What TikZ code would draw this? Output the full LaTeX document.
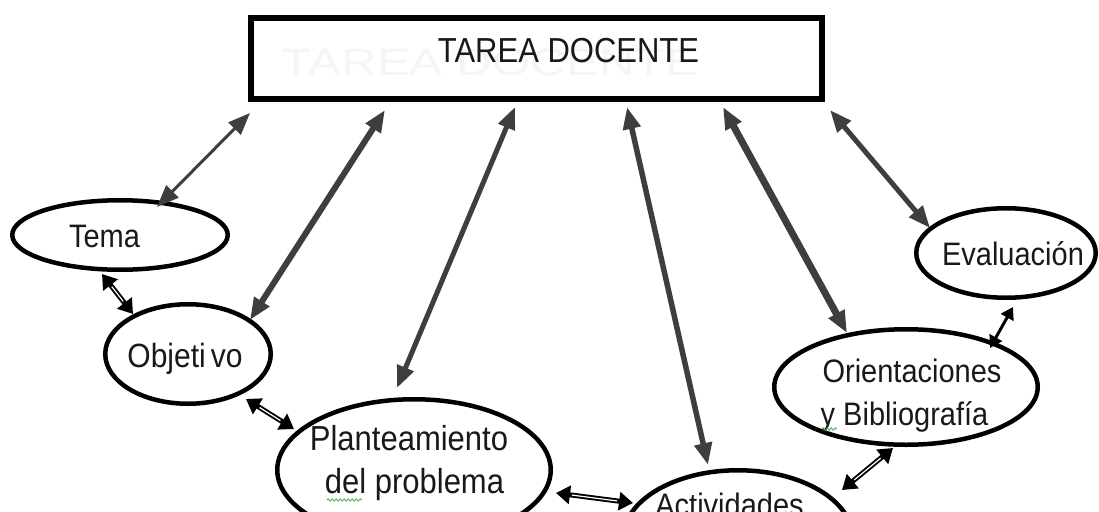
\documentclass[tikz,border=0pt]{standalone}
\usepackage{fontspec}
\setmainfont{Liberation Sans}
\usetikzlibrary{shapes.geometric,arrows.meta,decorations.pathmorphing}
\definecolor{arrowgray}{RGB}{62,62,62}
\definecolor{ghostgray}{RGB}{245,245,245}
\definecolor{squiggle}{RGB}{80,170,80}
\definecolor{txt}{RGB}{25,25,25}
\newcommand{\tallt}[1]{\scalebox{1}[1.12]{#1}}
\begin{document}
\begin{tikzpicture}[x=1pt,y=-1pt,
  oval/.style={ellipse, draw=black, line width=4.5pt, fill=white, inner sep=0pt},
  label text/.style={anchor=base, inner sep=0pt, text=txt},
  link/.style={draw=arrowgray, {Triangle[length=22pt,width=17pt]}-{Triangle[length=22pt,width=17pt]}},
  pairlink/.style={draw=black, line width=5pt, {Triangle[length=14pt,width=18pt]}-{Triangle[length=14pt,width=18pt]},
    postaction={draw=white, line width=1.2pt, -, shorten <=16pt, shorten >=16pt}},
  spell/.style={draw=squiggle, line width=0.8pt, decorate, decoration={snake, amplitude=1.2pt, segment length=4pt}}
]
\useasboundingbox (0,0) rectangle (1099,511);
\clip (0,0) rectangle (1099,511);
\fill[white] (0,0) rectangle (1099,511);

% title box
\node[draw=black, line width=6pt, fill=white, minimum width=571pt, minimum height=81pt, inner sep=0pt] (tarea) at (536.5,58.5) {};
\node[label text, text=ghostgray, font=\fontsize{38}{38}\selectfont] (sombra) at (490,75) {\scalebox{1.3}[1]{TAREA DOCENTE}};
\node[label text, font=\fontsize{31}{31}\selectfont] (titulo) at (568.5,63) {\tallt{TAREA DOCENTE}};

% ellipses
\node[oval, minimum width=215.5pt, minimum height=69.5pt] (tema) at (120,235) {};
\node[oval, minimum width=165.5pt, minimum height=99.5pt] (objetivo) at (188,354) {};
\node[oval, minimum width=273.5pt, minimum height=141.5pt] (plant) at (414,470) {};
\node[oval, minimum width=229.5pt, minimum height=135.5pt] (activ) at (738,538) {};
\node[oval, minimum width=263.5pt, minimum height=115.5pt] (orient) at (906,387) {};
\node[oval, minimum width=179.5pt, minimum height=89.5pt] (eval) at (1006,253) {};

% texts
\node[label text, font=\fontsize{29}{29}\selectfont] (temaT) at (104.5,247) {\tallt{Tema}};
\node[label text, font=\fontsize{30}{30}\selectfont] (objT) at (185,367) {\tallt{Objeti\,vo}};
\node[label text, font=\fontsize{31}{31}\selectfont] (plantA) at (409,450) {\tallt{Planteamiento}};
\node[label text, font=\fontsize{31}{31}\selectfont] (plantB) at (414.5,493) {\tallt{del problema}};
\node[label text, font=\fontsize{29}{29}\selectfont] (activT) at (729.5,516) {\tallt{Actividades}};
\node[label text, font=\fontsize{29}{29}\selectfont] (orientA) at (912,382) {\tallt{Orientaciones}};
\node[label text, font=\fontsize{29}{29}\selectfont] (orientB) at (904.5,425) {\tallt{y Bibliografía}};
\node[label text, font=\fontsize{29}{29}\selectfont] (evalT) at (1013,265) {\tallt{Evaluación}};

% spell-check squiggles
\draw[spell] (327,500) -- (362,500);
\draw[spell] (822,429) -- (837,429);

% connectors to the title box
\draw[link, line width=3pt]   ([shift={(37,-28)}]tema.center)     -- ([shift={(-286.5,54.5)}]tarea.center);
\draw[link, line width=6pt]   ([shift={(62,-34)}]objetivo.center) -- ([shift={(-151.5,51.5)}]tarea.center);
\draw[link, line width=5pt]   ([shift={(-17,-82)}]plant.center)   -- ([shift={(-21.5,48.5)}]tarea.center);
\draw[link, line width=5.5pt] ([shift={(-30,-73)}]activ.center)   -- ([shift={(90.5,48.5)}]tarea.center);
\draw[link, line width=7pt]   ([shift={(-59,-54)}]orient.center)  -- ([shift={(186.5,48.5)}]tarea.center);
\draw[link, line width=5pt]   ([shift={(-76,-25)}]eval.center)    -- ([shift={(293.5,51.5)}]tarea.center);

% connectors between ellipses
\draw[pairlink] ([shift={(-18,39)}]tema.center)     -- ([shift={(-55,-40)}]objetivo.center);
\draw[pairlink] ([shift={(58,45)}]objetivo.center)  -- ([shift={(-120,-41)}]plant.center);
\draw[pairlink] ([shift={(142,23)}]plant.center)    -- ([shift={(-105,-35)}]activ.center);
\draw[pairlink] ([shift={(-13,61)}]orient.center)   -- ([shift={(104,-48)}]activ.center);
\draw[draw=black, line width=3pt, {Triangle[length=12pt,width=14pt]}-{Triangle[length=12pt,width=14pt]}] ([shift={(84,-39)}]orient.center) -- ([shift={(7,54)}]eval.center);
\end{tikzpicture}
\end{document}
